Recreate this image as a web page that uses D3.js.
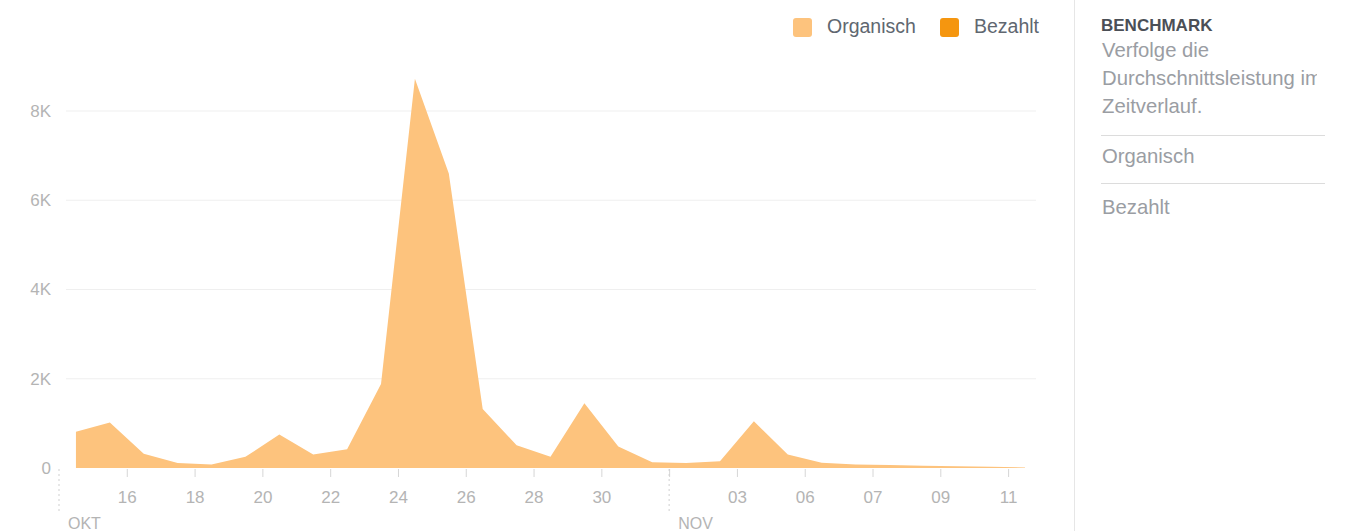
<!DOCTYPE html>
<html><head><meta charset="utf-8">
<script src="https://cdn.jsdelivr.net/npm/d3@7"></script>
<style>
html,body{margin:0;padding:0;background:#fff;}
svg{display:block;font-family:"Liberation Sans",Arial,sans-serif;}
</style></head>
<body>
<svg id="chart" width="1360" height="531"></svg>
<script>
// ---- data ----
const days = ["2019-10-14","2019-10-15","2019-10-16","2019-10-17","2019-10-18","2019-10-19","2019-10-20",
  "2019-10-21","2019-10-22","2019-10-23","2019-10-24","2019-10-25","2019-10-26","2019-10-27","2019-10-28",
  "2019-10-29","2019-10-30","2019-10-31","2019-11-01","2019-11-02","2019-11-03","2019-11-04","2019-11-05",
  "2019-11-06","2019-11-07","2019-11-08","2019-11-09","2019-11-10","2019-11-11"];
const organisch = [810,1020,320,110,80,250,750,300,420,1880,8720,6600,1320,510,250,1450,480,130,110,150,1050,300,120,80,70,50,40,30,10];
const bezahlt   = [0,0,0,0,0,0,0,0,0,0,0,0,0,0,0,0,0,0,0,0,0,0,0,0,0,0,0,0,0];
const tickDays   = ["2019-10-16","2019-10-18","2019-10-20","2019-10-22","2019-10-24","2019-10-26","2019-10-28","2019-10-30","2019-11-01","2019-11-03","2019-11-05","2019-11-07","2019-11-09","2019-11-11"];
const tickLabels = ["16","18","20","22","24","26","28","30","","03","06","07","09","11"];
const monthDays   = ["2019-10-14","2019-11-01"];
const monthLabels = ["OKT","NOV"];
const yTicks      = [0,2000,4000,6000,8000];
const yTickLabels = ["0","2K","4K","6K","8K"];
const seriesNames = ["Organisch","Bezahlt"];
const seriesColors = ["#fdc37d","#f5960f"];
const panelTitle = "BENCHMARK";
const panelLines = ["Verfolge die","Durchschnittsleistung im","Zeitverlauf."];
const panelItems = ["Organisch","Bezahlt"];

// ---- setup ----
const parse = d3.timeParse("%Y-%m-%d");
const svg = d3.select("#chart");
const x = d3.scaleTime().domain([parse("2019-10-14"), parse("2019-11-12")]).range([59, 1042]);
const y = d3.scaleLinear().domain([0, 8000]).range([468, 111]);
const noon = d => d3.timeHour.offset(parse(d), 12);

// gridlines
svg.append("g").selectAll("line").data(yTicks.slice(1)).join("line")
  .attr("x1", 66).attr("x2", 1036)
  .attr("y1", d => y(d)).attr("y2", d => y(d))
  .attr("stroke", "#efefef").attr("stroke-width", 1);

// stacked areas
const rows = days.map((d, i) => ({date: noon(d), Organisch: organisch[i], Bezahlt: bezahlt[i]}));
const stack = d3.stack().keys(seriesNames)(rows);
const area = d3.area().x(d => x(d.data.date)).y0(d => y(d[0])).y1(d => y(d[1]));
svg.append("g").selectAll("path").data(stack).join("path")
  .attr("d", area).attr("fill", (d, i) => seriesColors[i]);

// y axis labels
const ya = svg.append("g").attr("transform", "translate(51,0)")
  .call(d3.axisLeft(y).tickValues(yTicks).tickFormat((d, i) => yTickLabels[i]).tickSize(0).tickPadding(0));
ya.select(".domain").remove();
ya.selectAll("text").attr("font-size", 17).attr("fill", "#b4b4b4").attr("font-family", "Liberation Sans, Arial, sans-serif");

// x axis
const xa = svg.append("g").attr("transform", "translate(0,469)")
  .call(d3.axisBottom(x).tickValues(tickDays.map(parse)).tickFormat((d, i) => tickLabels[i]).tickSize(8).tickPadding(14));
xa.select(".domain").remove();
xa.selectAll("line").attr("stroke", "#d6d6d6");
xa.selectAll("text").attr("font-size", 17).attr("fill", "#b4b4b4").attr("font-family", "Liberation Sans, Arial, sans-serif");

// month markers
const mg = svg.append("g");
mg.selectAll("line").data(monthDays).join("line")
  .attr("x1", d => x(parse(d))).attr("x2", d => x(parse(d)))
  .attr("y1", 469).attr("y2", 512)
  .attr("stroke", "#cfcfcf").attr("stroke-dasharray", "2,3");
mg.selectAll("text").data(monthDays).join("text")
  .attr("x", d => x(parse(d)) + 9).attr("y", 529)
  .attr("font-size", 16).attr("fill", "#b4b4b4").text((d, i) => monthLabels[i]);

// legend
const lg = svg.append("g");
const legX = [793, 940];
seriesNames.forEach((s, i) => {
  lg.append("rect").attr("x", legX[i]).attr("y", 18).attr("width", 19).attr("height", 19).attr("rx", 3)
    .attr("fill", seriesColors[i]);
  lg.append("text").attr("x", legX[i] + 34).attr("y", 33).attr("font-size", 19.5).attr("fill", "#606770").text(s);
});

// right panel
svg.append("line").attr("x1", 1074.5).attr("x2", 1074.5).attr("y1", 0).attr("y2", 531).attr("stroke", "#e6e6e6");
[135.5, 183.5].forEach(v => {
  svg.append("line").attr("x1", 1101).attr("x2", 1325).attr("y1", v).attr("y2", v).attr("stroke", "#dcdcdc");
});
svg.append("defs").append("clipPath").attr("id", "pclip").append("rect")
  .attr("x", 1090).attr("y", 0).attr("width", 227).attr("height", 531);
const pg = svg.append("g").attr("clip-path", "url(#pclip)");
pg.append("text").attr("x", 1101).attr("y", 31).attr("font-size", 17).attr("font-weight", "bold")
  .attr("fill", "#4b4f56").text(panelTitle);
panelLines.forEach((t, i) => {
  pg.append("text").attr("x", 1102).attr("y", 57 + i * 28).attr("font-size", 20.3).attr("fill", "#9a9da3").text(t);
});
panelItems.forEach((t, i) => {
  pg.append("text").attr("x", 1102).attr("y", 163 + i * 51).attr("font-size", 20.3).attr("fill", "#9a9da3").text(t);
});
</script>
</body></html>
